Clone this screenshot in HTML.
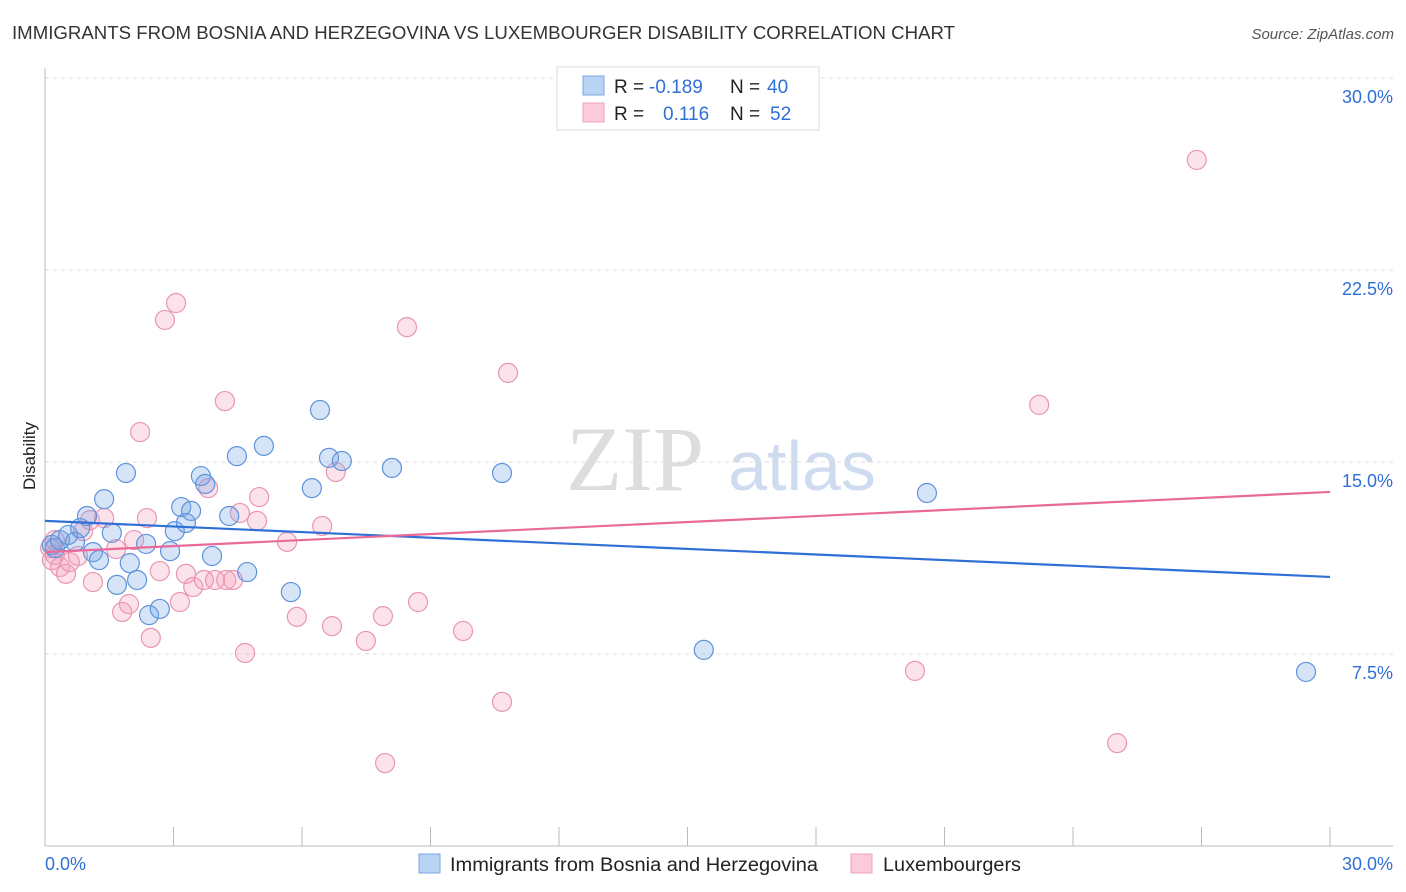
<!DOCTYPE html>
<html><head><meta charset="utf-8"><style>
body{margin:0;background:#fff;font-family:"Liberation Sans",sans-serif;}
svg{display:block}
</style></head><body>
<svg id="chart" width="1406" height="892">
<text x="12" y="39" font-size="18" fill="#333" textLength="943" lengthAdjust="spacingAndGlyphs">IMMIGRANTS FROM BOSNIA AND HERZEGOVINA VS LUXEMBOURGER DISABILITY CORRELATION CHART</text>
<text x="1394" y="39" font-size="15" fill="#555" font-style="italic" text-anchor="end">Source: ZipAtlas.com</text>
<text x="35" y="456" font-size="17" fill="#222" text-anchor="middle" transform="rotate(-90 35 456)">Disability</text>
<g>
<text x="635" y="490" font-size="92" fill="#ddd" font-family="Liberation Serif,serif" text-anchor="middle">ZIP</text>
<text x="802" y="490" font-size="70" fill="#cfdcf0" text-anchor="middle">atlas</text>
</g>
<g id="grid"></g><g id="axes"></g><g id="marks"></g>
<g>
<rect x="557" y="67" width="262" height="63" fill="#fff" stroke="#ddd"/>
<rect x="583" y="76" width="21" height="19" fill="#b9d3f5" stroke="#7ba5e0"/>
<rect x="583" y="103" width="21" height="19" fill="#fbcbd9" stroke="#eea3bc"/>
<text x="614" y="93" font-size="19" fill="#222">R = <tspan fill="#2f6fd6" x="649">-0.189</tspan></text>
<text x="730" y="93" font-size="19" fill="#222">N = <tspan fill="#2f6fd6" x="767">40</tspan></text>
<text x="614" y="120" font-size="19" fill="#222">R = <tspan fill="#2f6fd6" x="663">0.116</tspan></text>
<text x="730" y="120" font-size="19" fill="#222">N = <tspan fill="#2f6fd6" x="770">52</tspan></text>
</g>
<g>
<rect x="419" y="854" width="21" height="19" fill="#b9d3f5" stroke="#7ba5e0"/>
<text x="450" y="871" font-size="19" fill="#222" textLength="368" lengthAdjust="spacingAndGlyphs">Immigrants from Bosnia and Herzegovina</text>
<rect x="851" y="854" width="21" height="19" fill="#fbcbd9" stroke="#eea3bc"/>
<text x="883" y="871" font-size="19" fill="#222" textLength="138" lengthAdjust="spacingAndGlyphs">Luxembourgers</text>
</g>
</svg>
<script>
const blueX=[0.16,0.23,0.35,0.54,0.70,0.82,0.98,1.12,1.26,1.38,1.56,1.68,1.89,1.98,2.15,2.36,2.43,2.68,2.92,3.03,3.18,3.29,3.41,3.64,3.74,3.90,4.30,4.48,4.72,5.11,5.74,6.23,6.42,6.63,6.93,8.10,10.67,15.38,20.59,29.44];
const blueY=[11.76,11.64,11.95,12.15,11.88,12.42,12.89,11.48,11.17,13.55,12.23,10.20,14.57,11.05,10.39,11.80,9.02,9.26,11.52,12.30,13.24,12.62,13.09,14.45,14.14,11.33,12.89,15.23,10.70,15.63,9.92,13.98,17.03,15.16,15.04,14.77,14.57,7.66,13.79,6.80];
const pinkX=[0.12,0.16,0.23,0.35,0.49,0.58,0.77,0.89,1.12,1.05,1.38,1.66,1.80,1.96,2.08,2.22,2.38,2.47,2.68,2.80,3.06,3.15,3.29,3.46,3.71,3.81,3.97,4.20,4.23,4.39,4.55,4.67,4.95,5.00,5.65,5.88,6.47,6.70,6.79,7.49,7.89,7.94,8.45,8.71,9.76,10.67,10.81,20.31,23.21,25.03,26.89,0.23];
const pinkY=[11.64,11.17,11.37,10.90,10.63,11.09,11.33,12.30,10.31,12.73,12.81,11.60,9.14,9.45,11.95,16.17,12.81,8.13,10.74,20.55,21.21,9.53,10.63,10.12,10.39,13.98,10.39,17.38,10.39,10.39,13.01,7.54,12.70,13.63,11.88,8.95,12.50,8.59,14.61,8.01,8.98,3.24,20.27,9.53,8.40,5.63,18.48,6.84,17.23,4.02,26.80,11.95];
const blueTrend=[12.70,10.51];
const pinkTrend=[11.48,13.83];
const trendX=[0,30];
const yTicks=[7.5,15,22.5,30];
const xTickCount=10;
const NS="http://www.w3.org/2000/svg";
const sx=v=>45+v*1285/30, sy=v=>846-v*192/7.5;
function mk(t,a,p){const e=document.createElementNS(NS,t);for(const k in a)e.setAttribute(k,a[k]);p.appendChild(e);return e;}
const grid=document.getElementById('grid'),axes=document.getElementById('axes'),marks=document.getElementById('marks');
yTicks.forEach(v=>{
 const l=mk('line',{x1:45,x2:1393,y1:sy(v),y2:sy(v),stroke:'#ddd','stroke-dasharray':'4,4'},grid);
 
 
 const t=mk('text',{x:1393,y:sy(v)+25,'font-size':18,fill:'#2f6fd6','text-anchor':'end'},axes);
 t.textContent=v.toFixed(1)+'%';
 
 
});
mk('line',{x1:45,x2:45,y1:68,y2:846,stroke:'#bbb'},axes);
mk('line',{x1:45,x2:1393,y1:846,y2:846,stroke:'#bbb'},axes);
for(let i=0;i<=xTickCount;i++){const x=sx(i*3);const tk=mk('line',{x1:x,x2:x,y1:827,y2:846,stroke:'#bbb'},axes);
 
 }
const xl=mk('text',{x:45,y:870,'font-size':18,fill:'#2f6fd6'},axes);xl.textContent='0.0%';


const xr=mk('text',{x:1393,y:870,'font-size':18,fill:'#2f6fd6','text-anchor':'end'},axes);xr.textContent='30.0%';


function pts(X,Y,fill,stroke,name){X.forEach((x,i)=>{const c=mk('circle',{cx:sx(x),cy:sy(Y[i]),r:9.5,fill:fill,stroke:stroke,'stroke-width':1.2},marks);
 
 });}
pts(pinkX,pinkY,'rgba(245,160,190,0.3)','#e896b2','point-luxembourger');
pts(blueX,blueY,'rgba(120,165,230,0.3)','#5f93dc','point-bosnia');
const bl=mk('line',{x1:sx(trendX[0]),x2:sx(trendX[1]),y1:sy(blueTrend[0]),y2:sy(blueTrend[1]),stroke:'#2f6fd6','stroke-width':2.2},marks);


const pl=mk('line',{x1:sx(trendX[0]),x2:sx(trendX[1]),y1:sy(pinkTrend[0]),y2:sy(pinkTrend[1]),stroke:'#e8699a','stroke-width':2.2},marks);


</script>
</body></html>
